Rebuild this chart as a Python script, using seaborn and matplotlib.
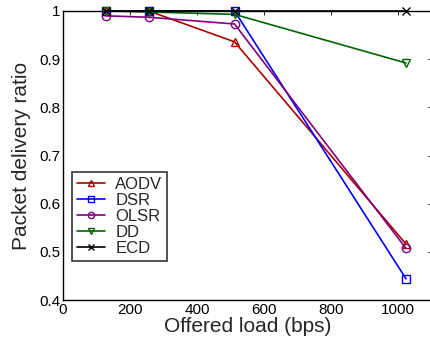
import matplotlib
matplotlib.use("Agg")
import matplotlib.pyplot as plt
import seaborn as sns
import pandas as pd

load = [128, 256, 512, 1024]
aodv = [1.0, 1.0, 0.936, 0.516]
dsr = [1.0, 1.0, 1.0, 0.444]
olsr = [0.990, 0.987, 0.973, 0.507]
dd = [1.0, 0.998, 0.993, 0.892]
ecd = [1.0, 1.0, 1.0, 1.0]

names = ["AODV", "DSR", "OLSR", "DD", "ECD"]
series = [aodv, dsr, olsr, dd, ecd]
colors = ["#aa0000", "#0000ff", "#800080", "#006400", "#000000"]
markers = ["^", "s", "o", "v", "x"]

sns.set_style("white")
plt.rcParams['font.family'] = ['Liberation Sans', 'DejaVu Sans']

fig = plt.figure(figsize=(4.3, 3.45), dpi=100)
ax = fig.add_axes([63/430, 1-300/345, 368.5/430, 289/345])

for name, vals, c, m in zip(names, series, colors, markers):
    df = pd.DataFrame({"load": load, "pdr": vals})
    sns.lineplot(data=df, x="load", y="pdr", ax=ax, color=c, marker=m,
                 markerfacecolor="none", markeredgecolor=c, markeredgewidth=1.0,
                 markersize=6, linewidth=1.2, label=name, clip_on=False)

ax.set_xlim(0, 1100)
ax.set_ylim(0.4, 1.0)
ax.set_xticks([0, 200, 400, 600, 800, 1000])
ax.set_yticks([0.4, 0.5, 0.6, 0.7, 0.8, 0.9, 1.0])
ax.set_yticklabels(["0.4", "0.5", "0.6", "0.7", "0.8", "0.9", "1"])
ax.tick_params(direction="in", length=3, width=0.6, labelsize=11, top=True, right=True,
               pad=2, colors="black")
for s in ax.spines.values():
    s.set_color("black")
    s.set_linewidth(1.0)
ax.set_xlabel("Offered load (bps)", fontsize=15, labelpad=0)
ax.set_ylabel("Packet delivery ratio", fontsize=15, labelpad=6)

leg = ax.legend(loc="upper left", bbox_to_anchor=(0.024, 0.443), fontsize=12,
                frameon=True, fancybox=False, handlelength=1.7, handletextpad=0.6,
                labelspacing=0.06, borderpad=0.3, borderaxespad=0, markerscale=0.75)
leg.get_frame().set_edgecolor("black")
leg.get_frame().set_linewidth(1.2)

fig.savefig("out.png", dpi=100)
